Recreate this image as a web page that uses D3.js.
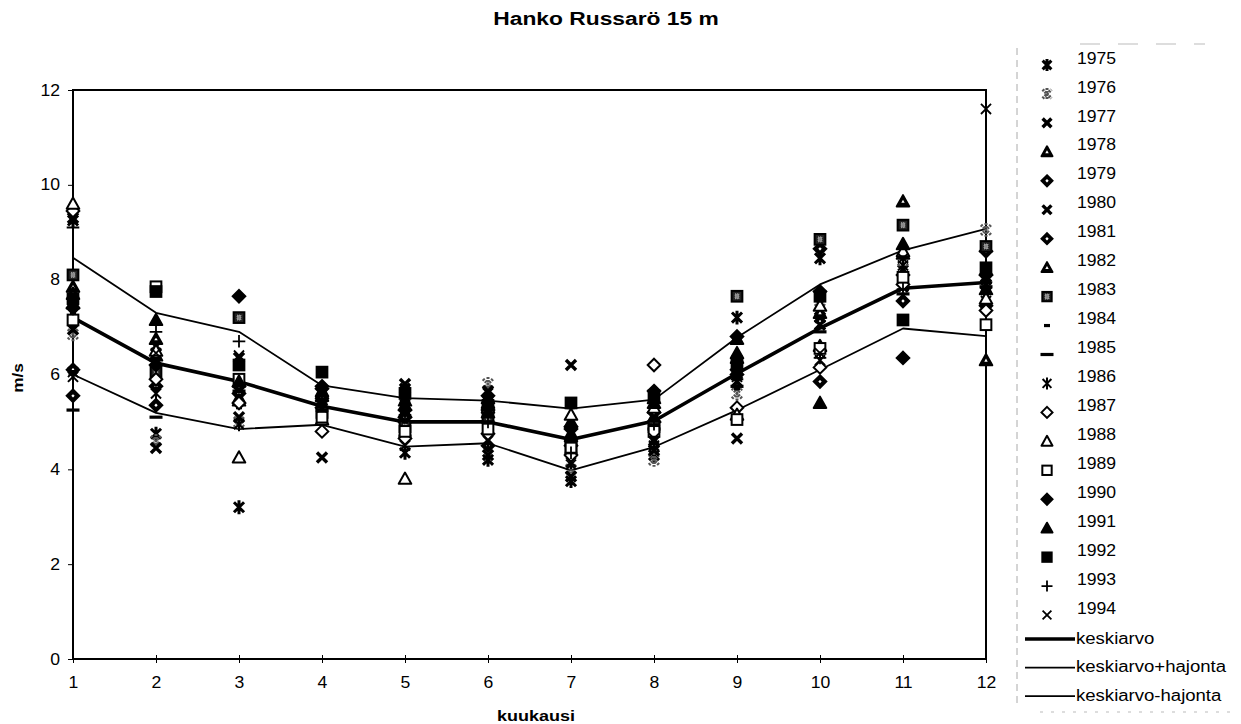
<!DOCTYPE html>
<html>
<head>
<meta charset="utf-8">
<script src="https://cdn.jsdelivr.net/npm/d3@7"></script>
<style>
    body { margin: 0; background: #fff; }
    text { font-family: "Liberation Sans", Arial, sans-serif; fill: #000; }
</style>
</head>
<body>
<div id="chart-area" style="width:1241px;height:724px;"></div>
<script>

// months on the x axis
const months = [1, 2, 3, 4, 5, 6, 7, 8, 9, 10, 11, 12];
const yTicks = [0, 2, 4, 6, 8, 10, 12];

// one row per year, monthly mean wind speed (m/s)
const years = [1975, 1976, 1977, 1978, 1979, 1980, 1981, 1982, 1983, 1984,
               1985, 1986, 1987, 1988, 1989, 1990, 1991, 1992, 1993, 1994];
const windByYear = [
    [9.25, 4.75, 3.2, 5.4, 4.35, 4.2, 3.75, 4.3, 7.2, 8.45, 8.2, 8.15],
    [6.85, 4.6, 5.0, 5.5, 5.5, 5.8, 4.0, 4.2, 5.6, 7.55, 8.4, 9.05],
    [9.3, 6.6, 6.35, 4.25, 5.8, 5.65, 6.2, 4.6, 4.65, 7.2, 8.0, 7.9],
    [7.85, 6.4, 5.5, 5.6, 5.2, 5.4, 4.7, 5.1, 6.35, 6.6, 8.55, 6.3],
    [5.55, 5.75, 5.6, 5.3, 5.0, 5.25, 4.85, 5.0, 6.0, 8.65, 7.55, 7.45],
    [6.95, 4.45, 5.1, 5.45, 5.7, 4.3, 3.85, 4.4, 5.85, 7.05, 7.85, 8.0],
    [6.1, 5.35, 5.75, 5.7, 5.1, 4.5, 4.5, 5.2, 6.1, 5.85, 8.1, 8.6],
    [7.7, 6.75, 5.45, 5.55, 5.35, 5.5, 5.0, 5.5, 6.75, 7.3, 9.65, 8.2],
    [8.1, 6.05, 7.2, 5.2, 4.9, 5.1, 4.4, 4.9, 7.65, 8.85, 9.15, 8.7],
    [7.3, 6.3, 5.3, 5.35, 5.0, 4.9, 4.6, 4.75, 5.7, 7.0, 7.95, 7.7],
    [5.25, 5.1, 5.65, 5.25, 4.7, 5.0, 4.55, 4.85, 5.75, 6.9, 7.7, 7.85],
    [5.95, 5.6, 4.95, 5.15, 4.5, 4.6, 4.15, 4.5, 5.95, 6.3, 8.3, 7.55],
    [9.45, 5.9, 5.4, 4.8, 4.65, 4.75, 4.3, 6.2, 5.3, 6.15, 7.9, 7.35],
    [9.6, 6.5, 4.25, 5.05, 3.8, 5.3, 5.15, 5.3, 5.15, 7.45, 8.6, 7.6],
    [7.15, 7.85, 5.9, 5.1, 4.8, 4.85, 4.45, 4.8, 5.05, 6.55, 8.05, 7.05],
    [7.4, 6.2, 7.65, 5.75, 5.25, 5.55, 4.9, 5.65, 6.8, 7.75, 6.35, 8.1],
    [7.5, 7.15, 5.85, 5.65, 5.45, 5.2, 4.75, 5.4, 6.45, 5.4, 8.75, 7.8],
    [7.6, 7.75, 6.2, 6.05, 5.6, 5.35, 5.4, 5.55, 6.2, 7.65, 7.15, 8.25],
    [9.1, 6.9, 6.7, 5.45, 5.15, 5.0, 4.35, 4.95, 5.9, 6.35, 7.8, 7.95],
    [6.05, 6.45, 6.4, 5.3, 5.55, 5.6, 4.1, 4.65, 6.3, 6.45, 8.45, 11.6]
];

// mean and mean +/- standard deviation
const meanValues  = [7.2, 6.24, 5.85, 5.33, 5.0, 5.0, 4.63, 5.02, 6.02, 6.98, 7.82, 7.94];
const plusValues  = [8.46, 7.3, 6.9, 5.77, 5.5, 5.45, 5.28, 5.47, 6.78, 7.9, 8.62, 9.07];
const minusValues = [6.0, 5.19, 4.85, 4.94, 4.48, 4.55, 3.98, 4.47, 5.25, 6.1, 6.97, 6.81];
const lineLabels  = ['keskiarvo', 'keskiarvo+hajonta', 'keskiarvo-hajonta'];

// marker look per year (same order as years)
const markerTypes = ['star', 'starGray', 'xBold', 'triHeavy', 'diaHeavy', 'xBold', 'diaHeavy',
                     'triHeavy', 'sqHatch', 'dashShort', 'dashLong', 'starThin', 'diaOpen',
                     'triOpen', 'sqOpen', 'diaFill', 'triFill', 'sqFill', 'plus', 'cross'];


class WindVis {

    constructor(parentElement) {
        this.parentElement = parentElement;
        this.initVis();
    }

    initVis() {
        let vis = this;

        // margin conventions
        vis.margin = {top: 90, right: 255, bottom: 65, left: 73};
        vis.width = 1241 - vis.margin.left - vis.margin.right;
        vis.height = 724 - vis.margin.top - vis.margin.bottom;

        vis.root = d3.select('#' + vis.parentElement).append('svg')
            .attr('width', 1241)
            .attr('height', 724);

        vis.svg = vis.root.append('g')
            .attr('transform', `translate(${vis.margin.left}, ${vis.margin.top})`);

        vis.x = d3.scaleLinear().domain([1, 12]).range([0, vis.width]);
        vis.y = d3.scaleLinear().domain([0, 12]).range([vis.height, 0]);

        // title (the scanned original is a bit wider than Arial)
        vis.root.append('text')
            .attr('transform', 'translate(606, 25) scale(1.2, 1)')
            .attr('text-anchor', 'middle')
            .style('font-size', '19px').style('font-weight', 'bold')
            .text('Hanko Russarö 15 m');

        // axis titles
        vis.root.append('text')
            .attr('transform', 'translate(536, 721) scale(1.2, 1)')
            .attr('text-anchor', 'middle')
            .style('font-size', '15px').style('font-weight', 'bold')
            .text('kuukausi');

        vis.root.append('text')
            .attr('transform', 'translate(23, 378) rotate(-90) scale(1.15, 1)')
            .attr('text-anchor', 'middle')
            .style('font-size', '15px').style('font-weight', 'bold')
            .text('m/s');

        vis.wrangleData();
    }

    wrangleData() {
        let vis = this;

        vis.points = [];
        years.forEach((yr, i) => {
            windByYear[i].forEach((v, j) => {
                vis.points.push({year: yr, month: months[j], value: v, type: markerTypes[i]});
            });
        });

        vis.lines = [
            {label: lineLabels[0], values: meanValues, width: 3.6},
            {label: lineLabels[1], values: plusValues, width: 1.8},
            {label: lineLabels[2], values: minusValues, width: 1.8}
        ];

        vis.updateVis();
    }

    updateVis() {
        let vis = this;

        // y axis
        let yAxis = vis.svg.append('g')
            .call(d3.axisLeft(vis.y).tickValues(yTicks).tickSize(5).tickPadding(8).tickSizeOuter(0));
        yAxis.select('.domain').remove();
        yAxis.selectAll('line').attr('stroke-width', 1);
        stretchText(yAxis.selectAll('text'), 1.1);

        // x axis
        let xAxis = vis.svg.append('g')
            .attr('transform', `translate(0, ${vis.height})`)
            .call(d3.axisBottom(vis.x).tickValues(months).tickFormat(d3.format('d')).tickSize(4).tickPadding(14).tickSizeOuter(0));
        xAxis.select('.domain').remove();
        xAxis.selectAll('line').attr('y1', -4).attr('stroke-width', 1);
        stretchText(xAxis.selectAll('text'), 1.1);

        // plot frame
        vis.svg.append('rect')
            .attr('width', vis.width).attr('height', vis.height)
            .attr('fill', 'none').attr('stroke', '#000').attr('stroke-width', 2);

        // lines
        let line = d3.line()
            .x((d, i) => vis.x(months[i]))
            .y(d => vis.y(d));

        vis.svg.selectAll('.stat-line')
            .data(vis.lines)
            .enter().append('path')
            .attr('class', 'stat-line')
            .attr('d', d => line(d.values))
            .attr('fill', 'none')
            .attr('stroke', '#000')
            .attr('stroke-width', d => d.width)
            .attr('stroke-linejoin', 'round');

        // year markers
        vis.svg.selectAll('.marker')
            .data(vis.points)
            .enter().append('g')
            .attr('class', 'marker')
            .attr('transform', d => `translate(${vis.x(d.month)}, ${vis.y(d.value)})`)
            .each(function (d) { drawMarker(d3.select(this), d.type, 6.3); });

        // legend
        let legend = vis.root.append('g').attr('class', 'legend');

        legend.append('line')
            .attr('x1', 1017).attr('x2', 1017).attr('y1', 48).attr('y2', 706)
            .attr('stroke', '#aaa').attr('stroke-dasharray', '7,5');
        legend.append('line')
            .attr('x1', 1080).attr('x2', 1205).attr('y1', 44).attr('y2', 44)
            .attr('stroke', '#bbb').attr('stroke-dasharray', '20,18');
        legend.append('line')
            .attr('x1', 1040).attr('x2', 1236).attr('y1', 712).attr('y2', 712)
            .attr('stroke', '#bbb').attr('stroke-dasharray', '3,8');

        let rowStep = 28.95;
        years.forEach((yr, i) => {
            let ty = 58 + i * rowStep;
            legend.append('text')
                .attr('transform', `translate(1077, ${ty}) scale(1.1, 1)`)
                .attr('dy', '0.35em')
                .style('font-size', '16px')
                .text(yr);
            let g = legend.append('g').attr('transform', `translate(1047, ${ty + 7})`);
            drawMarker(g, markerTypes[i], 5.5);
        });

        vis.lines.forEach((l, i) => {
            let ty = 638 + i * 28.6;
            legend.append('line')
                .attr('x1', 1025).attr('x2', 1075)
                .attr('y1', ty + 1).attr('y2', ty + 1)
                .attr('stroke', '#000').attr('stroke-width', l.width);
            legend.append('text')
                .attr('transform', `translate(1076, ${ty}) scale(1.16, 1)`)
                .attr('dy', '0.35em')
                .style('font-size', '16px')
                .text(l.label);
        });
    }
}

// widen axis labels horizontally around their anchor point
function stretchText(sel, sx) {
    sel.each(function () {
        let t = d3.select(this);
        let x = +t.attr('x') || 0;
        let y = +t.attr('y') || 0;
        t.attr('x', 0).attr('y', 0)
            .attr('transform', `translate(${x}, ${y}) scale(${sx}, 1)`)
            .style('font-size', '16px')
            .style('font-family', '"Liberation Sans", Arial, sans-serif');
    });
}

// draws one year marker centred at 0,0
function drawMarker(g, type, r) {
    let k = r * 0.8;
    switch (type) {
        case 'star':
        case 'starGray':
        case 'starThin':
            g.append('path')
                .attr('d', `M${-k},${-k}L${k},${k}M${-k},${k}L${k},${-k}M0,${-r * 1.1}L0,${r * 1.1}`)
                .attr('stroke', type === 'starGray' ? '#555' : '#000')
                .attr('stroke-width', type === 'starThin' ? 2 : 3)
                .attr('stroke-dasharray', type === 'starGray' ? '2,1' : null)
                .attr('fill', 'none');
            break;
        case 'xBold':
            g.append('path')
                .attr('d', `M${-k},${-k}L${k},${k}M${-k},${k}L${k},${-k}`)
                .attr('stroke', '#000').attr('stroke-width', 3.4);
            break;
        case 'cross':
            g.append('path')
                .attr('d', `M${-k},${-k}L${k},${k}M${-k},${k}L${k},${-k}`)
                .attr('stroke', '#000').attr('stroke-width', 1.8);
            break;
        case 'plus':
            g.append('path')
                .attr('d', `M${-r},0L${r},0M0,${-r}L0,${r}`)
                .attr('stroke', '#000').attr('stroke-width', 1.8);
            break;
        case 'dashShort':
            g.append('rect').attr('x', -3).attr('y', -1.6).attr('width', 6).attr('height', 3.2).attr('fill', '#000');
            break;
        case 'dashLong':
            g.append('rect').attr('x', -6.5).attr('y', -1.6).attr('width', 13).attr('height', 3.2).attr('fill', '#000');
            break;
        case 'triHeavy':
        case 'triOpen':
        case 'triFill': {
            let tri = s => `M0,${-s}L${s},${s * 0.8}L${-s},${s * 0.8}Z`;
            g.append('path').attr('d', tri(r))
                .attr('fill', type === 'triOpen' ? '#fff' : '#000')
                .attr('stroke', '#000').attr('stroke-width', 2).attr('stroke-linejoin', 'round');
            if (type === 'triHeavy') g.append('path').attr('d', tri(1.7)).attr('fill', '#fff');
            break;
        }
        case 'diaHeavy':
        case 'diaOpen':
        case 'diaFill': {
            let dia = s => `M0,${-s}L${s},0L0,${s}L${-s},0Z`;
            g.append('path').attr('d', dia(r))
                .attr('fill', type === 'diaOpen' ? '#fff' : '#000')
                .attr('stroke', '#000').attr('stroke-width', 2);
            if (type === 'diaHeavy') g.append('path').attr('d', dia(1.7)).attr('fill', '#fff');
            break;
        }
        case 'sqHatch':
        case 'sqOpen':
        case 'sqFill': {
            let s = r * 0.85;
            g.append('rect').attr('x', -s).attr('y', -s).attr('width', 2 * s).attr('height', 2 * s)
                .attr('fill', type === 'sqOpen' ? '#fff' : (type === 'sqHatch' ? '#222' : '#000'))
                .attr('stroke', '#000').attr('stroke-width', 2);
            if (type === 'sqHatch') {
                g.append('rect').attr('x', -2).attr('y', -2.5).attr('width', 4).attr('height', 5)
                    .attr('fill', '#888').attr('stroke', '#ccc').attr('stroke-width', 0.6).attr('stroke-dasharray', '1,1');
            }
            break;
        }
    }
}

new WindVis('chart-area');

</script>
</body>
</html>
